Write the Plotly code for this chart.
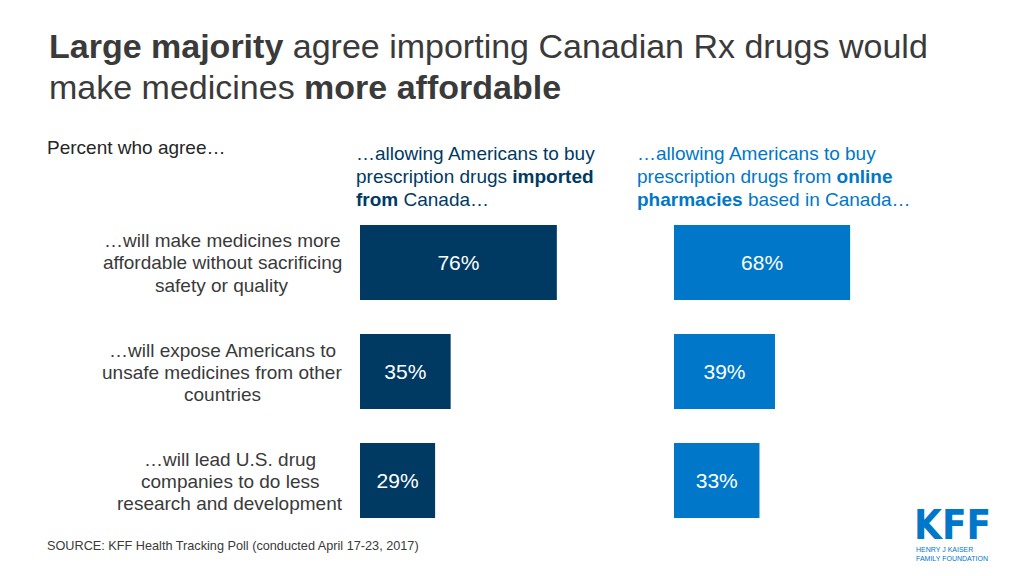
import plotly.graph_objects as go

W, H = 1024, 576
OFF = 8  # page body margin offset

statements = [
    "…will make medicines more<br>affordable without sacrificing<br>safety or quality",
    "…will expose Americans to<br>unsafe medicines from other<br>countries",
    "…will lead U.S. drug<br>companies to do less<br>research and development",
]
imported_vals = [76, 35, 29]
online_vals = [68, 39, 33]
panel_headers = [
    "…allowing Americans to buy<br>prescription drugs <b>imported</b><br><b>from</b> Canada…",
    "…allowing Americans to buy<br>prescription drugs from <b>online</b><br><b>pharmacies</b> based in Canada…",
]
title_lines = [
    "<b>Large majority</b> agree importing Canadian Rx drugs would",
    "make medicines <b>more affordable</b>",
]

DARK = "#003A63"
BLUE = "#0077C8"
TXT = "#3A3A3A"
FONT = "Liberation Sans, Arial, sans-serif"

def px(x):
    return (x - OFF) / W

def py(y):
    return 1 - (y - OFF) / H

ypos = list(range(len(statements)))

fig = go.Figure()
for vals, color, xa in [(imported_vals, DARK, "x"), (online_vals, BLUE, "x2")]:
    fig.add_trace(go.Bar(
        x=vals, y=ypos, orientation="h", width=0.688,
        marker=dict(color=color, line=dict(width=0)),
        text=[f"{v}%" for v in vals], textposition="inside",
        insidetextanchor="middle",
        textfont=dict(color="white", size=21, family=FONT),
        xaxis=xa, yaxis="y", hoverinfo="skip", showlegend=False,
    ))

yrange = [len(statements) - 0.5, -0.5]
fig.update_layout(
    width=W, height=H, margin=dict(l=0, r=0, t=0, b=0),
    paper_bgcolor="white", plot_bgcolor="white",
    xaxis=dict(domain=[px(360), px(619)], range=[0, 100], visible=False, fixedrange=True),
    xaxis2=dict(domain=[px(674), px(933)], range=[0, 100], visible=False, fixedrange=True),
    yaxis=dict(domain=[py(535), py(208)], range=yrange, visible=False, fixedrange=True),
    font=dict(family=FONT),
    uniformtext=dict(mode=False),
)

ann = []
# Title, line by line
for i, line in enumerate(title_lines):
    ann.append(dict(
        x=px(47), y=py(46 + 41 * i), xref="paper", yref="paper", xanchor="left", yanchor="middle",
        text=line, showarrow=False, font=dict(size=34, color=TXT, family=FONT),
    ))
ann.append(dict(
    x=px(45), y=py(147), xref="paper", yref="paper", xanchor="left", yanchor="middle",
    text="Percent who agree…", showarrow=False,
    font=dict(size=19, color="#262626", family=FONT),
))
# Panel headers
for hdr, color, x0 in zip(panel_headers, [DARK, BLUE], [354, 635]):
    for j, line in enumerate(hdr.split("<br>")):
        ann.append(dict(
            x=px(x0), y=py(153 + 23 * j), xref="paper", yref="paper", xanchor="left", yanchor="middle",
            text=line, showarrow=False, font=dict(size=19, color=color, family=FONT),
        ))
# Statement labels: centered lines in a right-aligned block
block_centers = [222, 222, 230]
for i, s in enumerate(statements):
    lines = s.split("<br>")
    for j, line in enumerate(lines):
        ann.append(dict(
            x=px(block_centers[i]), y=py(263 + 109 * i + 22 * (j - 1)),
            xref="paper", yref="paper", xanchor="center", yanchor="middle",
            text=line, showarrow=False, font=dict(size=19, color=TXT, family=FONT),
        ))
# Source
ann.append(dict(
    x=px(45), y=py(546), xref="paper", yref="paper", xanchor="left", yanchor="middle",
    text="SOURCE: KFF Health Tracking Poll (conducted April 17-23, 2017)", showarrow=False,
    font=dict(size=12.7, color=TXT, family=FONT),
))
# Logo
ann.append(dict(
    x=px(913), y=py(549), xref="paper", yref="paper", xanchor="left", yanchor="bottom",
    text="<b>KFF</b>", showarrow=False, borderpad=0,
    font=dict(size=40, color=BLUE, family="DejaVu Sans Condensed, Liberation Sans Narrow, Arial"),
))
ann.append(dict(
    x=px(915), y=py(545), xref="paper", yref="paper", xanchor="left", yanchor="top",
    text="HENRY J KAISER<br>FAMILY FOUNDATION", align="left", showarrow=False, borderpad=0,
    font=dict(size=7, color=BLUE, family=FONT),
))
fig.update_layout(annotations=ann)

fig.write_html("out.html")
